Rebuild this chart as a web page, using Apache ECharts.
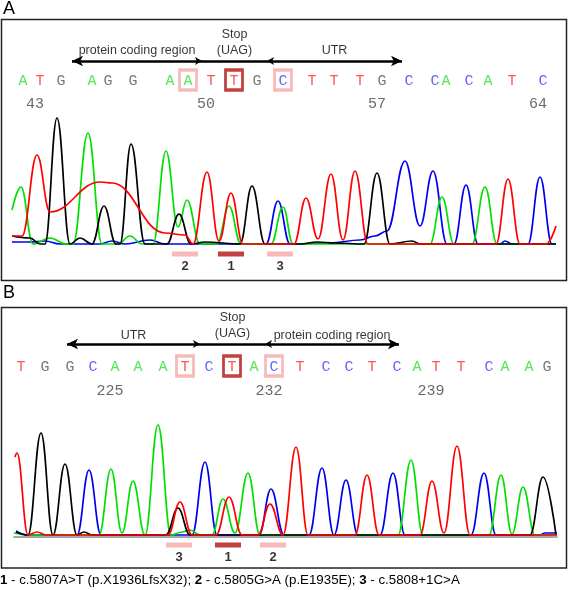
<!DOCTYPE html>
<html><head><meta charset="utf-8">
<script src="https://cdn.jsdelivr.net/npm/echarts@6/dist/echarts.min.js"></script>
<style>html,body{margin:0;padding:0;background:#fff}#c{width:568px;height:590px}</style>
</head><body><div id="c"></div>
<script>
// ---------------- DATA ----------------
// Panel A: base calls and their scan positions
const seqA = "ATGAGGAATTGCTTTGCCACATC";
const seqPosA = [23,40,61,92,108,133,170,188,211,234,257,283,312,334,360,382,409,435,446,469,488,512,543];
const numTicksA = [43,50,57,64];
const firstNumA = 42;
const boxIdxA = [7,9,11];
const boxKindA = ['minor','main','minor'];
const barPosA = [185,231,280];
const barLabelA = ['2','1','3'];
const barKindA = ['minor','main','minor'];
// Panel A traces: [scan, intensity]
const trA_A = [[12,34],[21,57],[33,0],[50,6],[66,0],[73,0],[88,111],[102,0],[118,0],[130,8],[142,0],[153,0],[166,93],[178,17],[187,44],[200,0],[217,0],[229,38],[241,0],[271,0],[283,37],[293,0],[430,0],[442,47],[454,0],[472,0],[485,57],[497,0],[556,0]];
const trA_T = [[12,8],[22,8],[37,89],[50,32],[100,62],[112,61],[165,11],[185,9],[193,0],[207,72],[219,3],[231,51],[243,0],[294,0],[306,46],[318,5],[331,70],[343,4],[355,73],[368,0],[496,0],[508,65],[520,0],[546,0],[556,18]];
const trA_G = [[12,8],[30,6],[40,0],[45,0],[57,126],[70,0],[80,6],[92,0],[104,38],[116,0],[120,0],[131,100],[145,0],[167,0],[179,30],[191,0],[205,2],[240,0],[252,58],[265,0],[300,0],[317,2],[335,1],[364,0],[377,71],[390,0],[412,3],[420,0],[556,0]];
const trA_C = [[12,2],[30,2],[45,3],[60,0],[100,0],[112,3],[125,0],[150,4],[165,0],[266,0],[278,43],[290,0],[330,1],[360,4],[375,8],[387,13],[405,83],[420,18],[433,73],[447,0],[454,0],[466,59],[478,0],[500,0],[505,3],[512,0],[528,0],[540,67],[552,0],[556,0]];

// Panel B
const seqB = "TGGCAAATCTACTCCTCATTCAAG";
const seqPosB = [21,45,70,93,115,138,163,185,209,232,254,274,300,326,349,372,397,417,436,461,489,505,529,547];
const numTicksB = [225,232,239];
const firstNumB = 221;
const boxIdxB = [7,9,11];
const boxKindB = ['minor','main','minor'];
const barPosB = [179,228,273];
const barLabelB = ['3','1','2'];
const barKindB = ['minor','main','minor'];
const trB_A = [[14,2],[28,0],[99,0],[111,66],[122,2],[133,54],[145,0],[158,110],[171,0],[182,3],[190,5],[200,0],[212,0],[223,36],[235,2],[248,62],[260,0],[398,0],[411,75],[423,0],[489,0],[501,60],[512,1],[523,48],[535,0],[557,0]];
const trB_T = [[15,78],[17,82],[28,0],[37,3],[46,0],[168,0],[180,33],[192,0],[216,0],[229,38],[242,0],[258,0],[270,31],[283,0],[296,88],[308,0],[355,0],[367,60],[379,0],[420,0],[432,54],[444,2],[457,89],[470,0],[557,0]];
const trB_G = [[16,3],[28,0],[41,102],[53,0],[65,71],[77,0],[84,3],[92,0],[166,0],[178,27],[190,0],[530,0],[543,58],[556,0]];
const trB_C = [[16,4],[28,0],[77,0],[89,65],[101,0],[192,0],[205,73],[217,0],[259,0],[271,46],[284,0],[309,0],[322,67],[334,0],[346,55],[358,0],[380,0],[393,62],[405,0],[471,0],[484,62],[496,0],[540,0],[545,2],[557,2]];

// Region annotations (scan positions of arrow ends)
const regionsA = [['protein coding region',72,202],['Stop\n(UAG)',202,267],['UTR',267,402]];
const regionsB = [['UTR',67,200],['Stop\n(UAG)',200,265],['protein coding region',265,399]];

const caption = [['1',' - c.5807A>T (p.X1936LfsX32); '],['2',' - c.5805G>A (p.E1935E); '],['3',' - c.5808+1C>A']];

// ---------------- STYLE ----------------
const letterColor = {A:'#2ee02e', T:'#ff2a2a', G:'#555555', C:'#3a3aff'};
const traceColor = {A:'#00e000', T:'#ff0000', G:'#000000', C:'#0000f0'};
const kindColor = {minor:'#f6a8a8', main:'#b21010'};
const mono = 'Liberation Mono, DejaVu Sans Mono, monospace';
const sans = 'Liberation Sans, Arial, sans-serif';

function textPoint(x, y, text, style) {
  return {value:[x,y], label:Object.assign({show:true, position:'inside', formatter:text}, style)};
}

function panelSeries(gi, P) {
  const s = [];
  const traces = [['C',P.tr.C],['A',P.tr.A],['G',P.tr.G],['T',P.tr.T]];
  traces.forEach(([b,d]) => s.push({
    type:'line', xAxisIndex:gi, yAxisIndex:gi, data:d, smooth:0.42, smoothMonotone:'x',
    showSymbol:false, symbol:'none', silent:true, z:2,
    lineStyle:{color:traceColor[b], width:1.7}
  }));
  // boxes around variant letters
  s.push({type:'scatter', xAxisIndex:gi, yAxisIndex:gi, silent:true, z:3, symbol:'rect', symbolSize:[17,20],
    data:P.boxIdx.map((i,k)=>({value:[P.pos[i],P.yBox], itemStyle:{color:'rgba(255,255,255,0)', borderColor:kindColor[P.boxKind[k]], borderWidth:3}}))});
  // letters
  s.push({type:'scatter', xAxisIndex:gi, yAxisIndex:gi, silent:true, z:4, symbolSize:0,
    data:P.seq.split('').map((c,i)=>textPoint(P.pos[i],P.yLetter,c,{color:letterColor[c], fontFamily:mono, fontSize:15}))});
  // position numbers
  s.push({type:'scatter', xAxisIndex:gi, yAxisIndex:gi, silent:true, z:4, symbolSize:0,
    data:P.nums.map(n=>textPoint(P.pos[n-P.first]-5,P.yNum,String(n),{color:'#444', fontFamily:mono, fontSize:15}))});
  // variant bars
  s.push({type:'scatter', xAxisIndex:gi, yAxisIndex:gi, silent:true, z:4, symbol:'rect', symbolSize:[26,5],
    data:P.bars.map((x,k)=>({value:[x,P.yBar], itemStyle:{color:kindColor[P.barKind[k]]},
      label:{show:true, position:'bottom', distance:3, formatter:P.barLabel[k], color:'#000', fontWeight:'bold', fontSize:13, fontFamily:sans}}))});
  // region labels + arrows
  const labels = P.regions.map(([t,a,b]) => {
    const two = t.indexOf('\n')>=0;
    return textPoint((a+b)/2, P.yArrow + (two?18:P.oneOff), t, {color:'#000', fontFamily:sans, fontSize:12.5, lineHeight:16});
  });
  const big = [8,11], small = [6,7];
  const lines = P.regions.map(([t,a,b],k) => {
    const outerL = k===0, outerR = k===P.regions.length-1, mid = t.indexOf('\n')>=0;
    return [
      {coord:[a,P.yArrow], symbol: mid?'none':'arrow', symbolSize: outerL?big:small},
      {coord:[b,P.yArrow], symbol: mid?'none':'arrow', symbolSize: outerR?big:small}
    ];
  });
  s.push({type:'scatter', xAxisIndex:gi, yAxisIndex:gi, silent:true, z:5, symbolSize:0, data:labels,
    markLine:{silent:true, animation:false, symbol:['none','none'], label:{show:false},
      lineStyle:{color:'#000', width:2.6, type:'solid'}, emphasis:{disabled:true}, data:lines}});
  return s;
}

const PA = {seq:seqA, pos:seqPosA, nums:numTicksA, first:firstNumA, boxIdx:boxIdxA, boxKind:boxKindA,
  bars:barPosA, barLabel:barLabelA, barKind:barKindA, regions:regionsA,
  tr:{A:trA_A,T:trA_T,G:trA_G,C:trA_C}, yLetter:163, yBox:164, yNum:140, yArrow:183, yBar:-10, oneOff:10};
const PB = {seq:seqB, pos:seqPosB, nums:numTicksB, first:firstNumB, boxIdx:boxIdxB, boxKind:boxKindB,
  bars:barPosB, barLabel:barLabelB, barKind:barKindB, regions:regionsB,
  tr:{A:trB_A,T:trB_T,G:trB_G,C:trB_C}, yLetter:168, yBox:169, yNum:144, yArrow:191, yBar:-10, oneOff:8.5};

const chart = echarts.init(document.getElementById('c'), null, {renderer:'canvas'});
chart.setOption({
  animation:false,
  backgroundColor:'#fff',
  grid:[
    {left:12, top:19, width:544, height:262},
    {left:14, top:307, width:543, height:261},
    {left:14, top:420, width:543, height:116.5}
  ],
  xAxis:[
    {type:'value', gridIndex:0, min:12, max:556, show:false},
    {type:'value', gridIndex:1, min:14, max:557, show:false},
    {type:'value', gridIndex:2, min:14, max:557, position:'bottom',
      axisLine:{show:true, onZero:false, lineStyle:{color:'#8a8a8a', width:1.6}},
      axisTick:{show:false}, axisLabel:{show:false}, splitLine:{show:false}}
  ],
  yAxis:[
    {type:'value', gridIndex:0, min:-37, max:225, show:false},
    {type:'value', gridIndex:1, min:-33, max:228, show:false},
    {type:'value', gridIndex:2, min:0, max:1, show:false}
  ],
  graphic:[
    {type:'rect', shape:{x:1.5, y:19.5, width:565, height:261}, style:{fill:null, stroke:'#222', lineWidth:1.5}, silent:true},
    {type:'rect', shape:{x:1.5, y:307.5, width:565, height:260.5}, style:{fill:null, stroke:'#222', lineWidth:1.5}, silent:true},
    {type:'text', left:3, top:0, style:{text:'A', fontSize:18, fontFamily:sans, fill:'#000'}},
    {type:'text', left:3, top:284, style:{text:'B', fontSize:18, fontFamily:sans, fill:'#000'}},
    {type:'text', left:0, top:574, style:{
      text: caption.map(([n,t])=>'{b|'+n+'}{r|'+t.replace(/[{}]/g,'')+'}').join(''),
      rich:{b:{fontWeight:'bold', fontSize:13.3, fontFamily:sans, fill:'#000'}, r:{fontSize:13.3, fontFamily:sans, fill:'#000'}}
    }}
  ],
  series:[].concat(panelSeries(0,PA), panelSeries(1,PB),
    [{type:'scatter', xAxisIndex:2, yAxisIndex:2, data:[], silent:true}])
});
</script></body></html>
